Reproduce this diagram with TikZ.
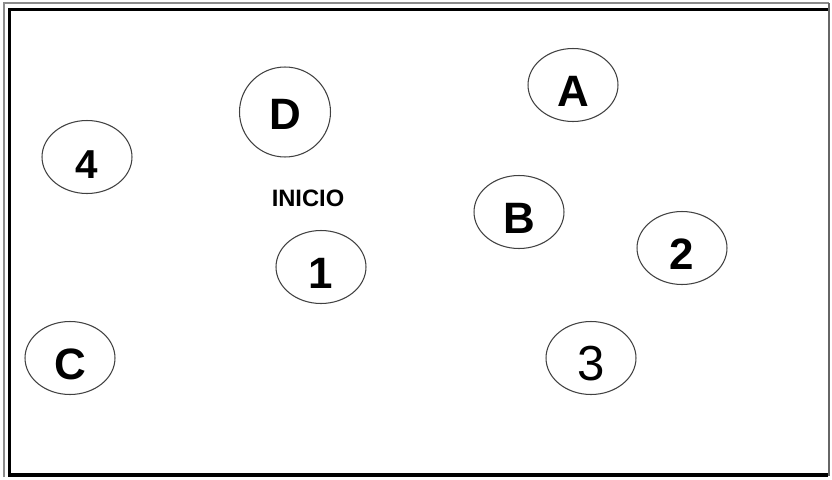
\documentclass[tikz,border=0pt]{standalone}
\usepackage{fontspec}
\setmainfont{Liberation Sans}
\usetikzlibrary{shapes.geometric}

\begin{document}
\begin{tikzpicture}[x=.02cm,y=-.02cm,
 spot/.style={ellipse,draw=black!75,line width=.6pt,inner sep=0pt,
   minimum width=1.8cm,minimum height=1.46cm,text height=.85cm,text depth=0pt,
   font=\fontsize{25}{27}\selectfont\bfseries},
 round/.style={spot,minimum width=1.82cm,minimum height=1.8cm,text height=.72cm},
 plain/.style={spot,font=\fontsize{28}{30}\selectfont,text height=.92cm},
 lab/.style={font=\fontsize{13.5}{15}\selectfont\bfseries,inner sep=0pt}]
\useasboundingbox (0,0) rectangle (832,480);
% frame
\draw[black!45,line width=1.3pt] (4,477) |- (829,3);
\draw[black!60,line width=.6pt] (829,3) -- (829,476);
\draw[black,line width=2.2pt] (828,9.5) -| (9.5,475) -- (828,475);
% places
\node[round] (d) at (285,112) {D};
\node[spot] (a) at (573,85) {A};
\node[spot,font=\fontsize{23}{25}\selectfont\bfseries] (n4) at (87,157) {4};
\node[lab] (inicio) at (308,198) {INICIO};
\node[spot] (b) at (519,212) {B};
\node[spot] (n2) at (682,248) {2};
\node[spot] (n1) at (321,267) {1};
\node[spot] (c) at (70,358) {C};
\node[plain] (n3) at (591,358) {3};
\end{tikzpicture}
\end{document}
